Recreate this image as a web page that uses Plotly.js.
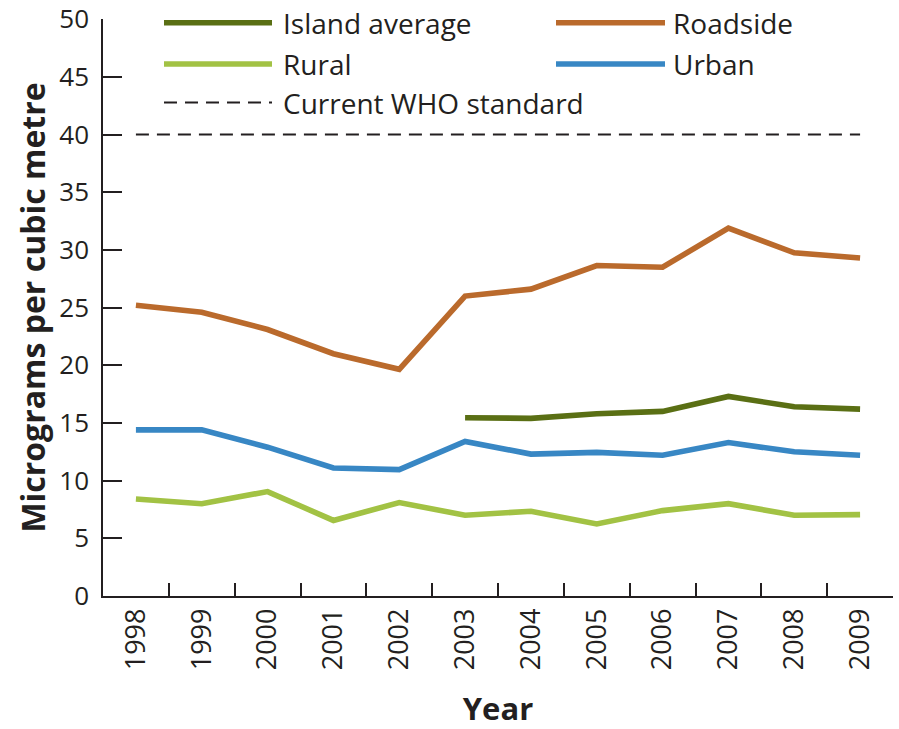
<!DOCTYPE html>
<html>
<head>
<meta charset="utf-8">
<script src="https://cdn.plot.ly/plotly-3.0.1.min.js"></script>
<style>html,body{margin:0;padding:0;background:#fff;}#chart{width:899px;height:729px;}</style>
</head>
<body>
<div id="chart"></div>
<script>
// ---- Data ----
const years = ['1998','1999','2000','2001','2002','2003','2004','2005','2006','2007','2008','2009'];
const islandAverage = [null,null,null,null,null,15.45,15.4,15.8,16.0,17.3,16.4,16.2];
const roadside = [25.2,24.6,23.1,21.0,19.65,26.0,26.6,28.65,28.5,31.9,29.75,29.3];
const rural = [8.4,8.0,9.05,6.55,8.1,7.0,7.35,6.25,7.4,8.0,7.0,7.05];
const urban = [14.4,14.4,12.9,11.1,10.95,13.4,12.3,12.45,12.2,13.3,12.5,12.2];
const whoStandard = [40,40,40,40,40,40,40,40,40,40,40,40];
const seriesNames = ['Island average','Roadside','Rural','Urban','Current WHO standard'];
const yTicks = [0,5,10,15,20,25,30,35,40,45,50];

// ---- Styling ----
const colors = {island:'#5a6f14', roadside:'#ba6a2c', rural:'#a2c244', urban:'#3887c4', who:'#231f20'};
const FONT = '"Open Sans", "Noto Sans", sans-serif';
const TXT = '#231f20';
const W = 899, H = 729, ML = 103, MR = 6, MT = 19, MB = 133;
const px = x => (x - ML) / (W - ML - MR);
const py = y => (H - MB - y) / (H - MT - MB);

const lw = 5.6;
const traces = [
  {x: years, y: islandAverage, name: seriesNames[0], mode:'lines', line:{color:colors.island, width:lw}},
  {x: years, y: roadside, name: seriesNames[1], mode:'lines', line:{color:colors.roadside, width:lw}},
  {x: years, y: rural, name: seriesNames[2], mode:'lines', line:{color:colors.rural, width:lw}},
  {x: years, y: urban, name: seriesNames[3], mode:'lines', line:{color:colors.urban, width:lw}},
  {x: years, y: whoStandard, name: seriesNames[4], mode:'lines', line:{color:colors.who, width:2, dash:'13px,8px'}}
];
traces.forEach(t => { t.showlegend = false; t.hoverinfo = 'x+y+name'; });

// ---- Custom legend (long line samples) ----
const legendItems = [
  {name: seriesNames[0], color: colors.island, x0:164, x1:272, y:22.7, tx:281, dash:'solid', w:lw},
  {name: seriesNames[1], color: colors.roadside, x0:556, x1:665, y:22.7, tx:671, dash:'solid', w:lw},
  {name: seriesNames[2], color: colors.rural, x0:164, x1:272, y:64, tx:281, dash:'solid', w:lw},
  {name: seriesNames[3], color: colors.urban, x0:556, x1:665, y:64, tx:671, dash:'solid', w:lw},
  {name: seriesNames[4], color: colors.who, x0:164, x1:272, y:102.5, tx:281, dash:'13px,8px', w:2}
];
const shapes = legendItems.map(it => ({
  type:'line', xref:'paper', yref:'paper',
  x0: px(it.x0), x1: px(it.x1), y0: py(it.y), y1: py(it.y),
  line:{color: it.color, width: it.w, dash: it.dash}
}));
const annotations = legendItems.map(it => ({
  xref:'paper', yref:'paper', x: px(it.tx), y: py(it.y),
  xanchor:'left', yanchor:'middle', showarrow:false,
  text: it.name, font:{family:FONT, size:28, color:TXT}
}));

const layout = {
  width: W, height: H,
  margin: {l: ML, r: MR, t: MT, b: MB, pad: 0},
  paper_bgcolor:'#fff', plot_bgcolor:'#fff',
  showlegend: false,
  font: {family: FONT, color: TXT},
  xaxis: {
    type:'category', range:[-0.5, 11.5], categoryarray: years,
    showgrid:false, zeroline:false,
    showline:true, linecolor:TXT, linewidth:1.5,
    ticks:'inside', tickson:'boundaries', ticklen:13, tickwidth:1.5, tickcolor:TXT,
    tickangle:-90, tickfont:{family:FONT, size:27, color:TXT},
    title:{text:'<b>Year</b>', font:{family:FONT, size:31, color:TXT}, standoff:30}
  },
  yaxis: {
    range:[-0.002, 50.02], tickmode:'array', tickvals:yTicks, ticktext:yTicks.map(String),
    showgrid:false, zeroline:false,
    showline:true, linecolor:TXT, linewidth:1.5,
    ticks:'inside', ticklen:19, tickwidth:1.5, tickcolor:TXT,
    tickfont:{family:FONT, size:26, color:TXT},
    ticklabelstandoff: 7, ticklabeloverflow:'allow',
    title:{text:'<b>Micrograms per cubic metre</b>', font:{family:FONT, size:32, color:TXT}, standoff:4}
  },
  shapes: shapes,
  annotations: annotations
};

Plotly.newPlot('chart', traces, layout, {displayModeBar:false});
</script>
</body>
</html>
